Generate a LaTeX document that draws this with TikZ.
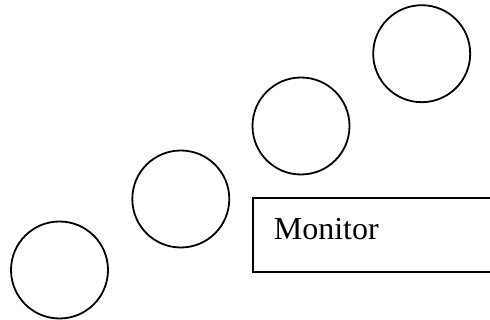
\documentclass[tikz,border=0pt]{standalone}
\usepackage{fontspec}
\setmainfont{Liberation Serif}
\begin{document}
\begin{tikzpicture}[x=1pt,y=-1pt,line width=1.8pt,
        ball/.style = {circle,
            draw,
            inner sep = 0pt,
            minimum size = 97pt,
            },
        box/.style = {rectangle,
            anchor = west,
            minimum height = 72pt,
            minimum width = 260pt,
            text width = 220pt,
            inner xsep = 20pt,
            align = left,
            text height = 22pt,
            text depth = 12pt,
            font = \fontsize{32}{38}\selectfont,
            }]

    \useasboundingbox (0,0) rectangle (490,320);
    \clip (0,0) rectangle (490,320);

    % Circles
    \node[ball] (c1) at (59.5,270) {};
    \node[ball] (c2) at (180.8,199) {};
    \node[ball] (c3) at (301,126) {};
    \node[ball] (c4) at (421.7,53.7) {};

    % Monitor
    \node[box] (monitor) at (253,235) {Monitor};
    \draw (monitor.north east) -- (monitor.north west)
        -- (monitor.south west) -- (monitor.south east);

\end{tikzpicture}
\end{document}
